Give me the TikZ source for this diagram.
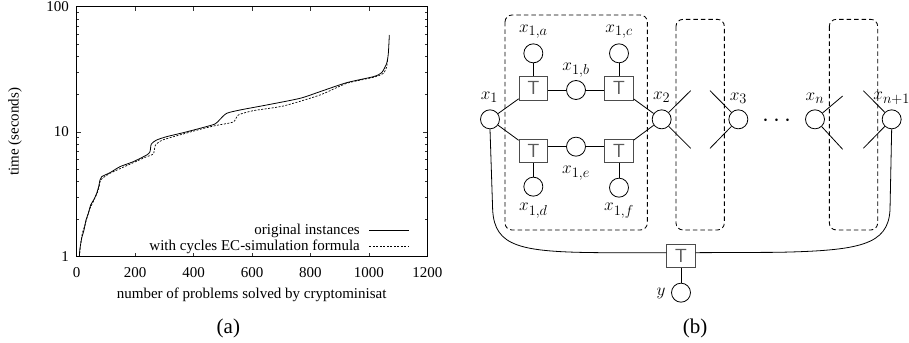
\documentclass[tikz,border=0pt]{standalone}
\usepackage{fontspec}
\setmainfont{Liberation Serif}
\usetikzlibrary{calc}
\begin{document}
\begin{tikzpicture}[x=0.33333pt,y=-0.33333pt,
  plotlbl/.style={font=\fontsize{15}{18}\selectfont, inner sep=0pt},
  tickline/.style={line width=0.5pt, black!80},
  var/.style={circle, draw, line width=0.8pt, minimum size=19pt, inner sep=0pt},
  fac/.style={rectangle, draw=black!70, line width=0.8pt, minimum width=28.5pt, minimum height=23.3pt, inner sep=0pt, font=\sffamily\fontsize{19}{19}\selectfont, text=black!65},
  mlbl/.style={font=\fontsize{19}{22}\selectfont, inner sep=0pt},
  grp/.style={draw=black, dash pattern=on 4.5pt off 3pt, line width=0.85pt, rounded corners=7pt},
  conn/.style={line width=0.8pt},
  subcap/.style={font=\fontsize{21}{24}\selectfont, inner sep=0pt}
]
\useasboundingbox (0,0) rectangle (2727,1029);
% ---------------- plot (a) ----------------
\foreach \k in {1,...,5} {
  \draw[tickline] ({230+\k*175.3333},770) -- ++(0,-12);
  \draw[tickline] ({230+\k*175.3333},20) -- ++(0,12);
}
\draw[tickline] (230,396) -- ++(12,0);
\draw[tickline] (1282,396) -- ++(-12,0);
\foreach \d in {0,1} {
  \foreach \m in {2,...,9} {
    \draw[tickline] (230,{770-375*\d-375*log10(\m)}) -- ++(7,0);
    \draw[tickline] (1282,{770-375*\d-375*log10(\m)}) -- ++(-7,0);
  }
}
\draw[line width=0.9pt] (230,20) rectangle (1282,770);
\node[plotlbl, anchor=east] (y1) at (207,770) {1};
\node[plotlbl, anchor=east] (y10) at (207,396) {10};
\node[plotlbl, anchor=east] (y100) at (207,20) {100};
\foreach \v [count=\i from 0] in {0,200,400,600,800,1000,1200}
  \node[plotlbl] (xt\i) at ({230+\i*175.3333},818) {\v};
\node[plotlbl] (xlab) at (755,885) {number of problems solved by cryptominisat};
\node[plotlbl, rotate=90] (ylab) at (45,395) {time (seconds)};
\node[plotlbl, anchor=east] (leg1) at (1080,693) {original instances};
\node[plotlbl, anchor=east] (leg2) at (1080,740) {with cycles EC-simulation formula};
\draw[line width=0.8pt] (1108,690) -- (1228,690);
\draw[line width=0.7pt, dash pattern=on 2pt off 1.5pt] (1108,738) -- (1228,738);
% solid curve
\draw[line width=0.8pt, line join=round] plot[smooth, tension=0.4] coordinates {
 (238,770) (240,745) (245,715) (252,690) (258,660) (265,640) (272,615) (282,598)
 (290,580) (296,560) (300,540) (305,530) (330,518) (360,500) (400,485) (440,465)
 (450,455) (454,432) (470,420) (500,410) (550,398) (600,385) (645,372) (660,358)
 (680,340) (720,330) (800,315) (900,295) (960,275) (1040,248) (1120,230) (1145,218)
 (1160,190) (1165,160) (1168,105)};
% dashed curve
\draw[line width=0.7pt, dash pattern=on 2pt off 1.5pt] plot[smooth, tension=0.4] coordinates {
 (238,770) (241,740) (247,700) (255,675) (262,650) (270,625) (282,600)
 (292,578) (298,558) (302,540) (330,520) (400,488) (440,470) (460,462)
 (466,436) (480,424) (500,416) (600,388) (650,376) (700,366) (715,345)
 (760,332) (850,318) (960,285) (1040,250) (1120,232) (1150,220) (1160,200) (1163,175)};
\node[subcap] (capa) at (685,985) {(a)};
% ---------------- diagram (b) ----------------
\begin{scope}[shift={(1380,0)}]
\draw[grp] (135,45) rectangle (562,690);
\draw[grp] (648,58) rectangle (793,690);
\draw[grp] (1108,58) rectangle (1253,690);
\node[var] (x1) at (90,358) {};
\node[var] (x2) at (605,358) {};
\node[var] (x3) at (835,358) {};
\node[var] (xn) at (1065,358) {};
\node[var] (xnp) at (1295,358) {};
\node[fac] (TL) at (220,265) {T};
\node[fac] (TR) at (477,265) {T};
\node[fac] (BL) at (220,453) {T};
\node[fac] (BR) at (477,453) {T};
\node[var] (x1b) at (348,270) {};
\node[var] (x1e) at (348,440) {};
\node[var] (x1a) at (220,160) {};
\node[var] (x1c) at (477,160) {};
\node[var] (x1d) at (220,560) {};
\node[var] (x1f) at (477,563) {};
\node[fac] (bot) at (663,768) {T};
\node[var] (yv) at (663,878) {};
% labels
\node[mlbl] (lx1) at (88,292) {$x_1$};
\node[mlbl] (lx2) at (605,292) {$x_2$};
\node[mlbl] (lx3) at (835,295) {$x_3$};
\node[mlbl] (lxn) at (1065,295) {$x_n$};
\node[mlbl] (lxnp) at (1295,295) {$x_{n+1}$};
\node[mlbl] (lx1a) at (220,95) {$x_{1,a}$};
\node[mlbl] (lx1c) at (477,95) {$x_{1,c}$};
\node[mlbl] (lx1b) at (348,210) {$x_{1,b}$};
\node[mlbl] (lx1e) at (348,520) {$x_{1,e}$};
\node[mlbl] (lx1d) at (220,632) {$x_{1,d}$};
\node[mlbl] (lx1f) at (477,632) {$x_{1,f}$};
\node[mlbl] (ly) at (603,880) {$y$};
\node[font=\fontsize{24}{24}\selectfont, inner sep=0pt] (dots) at (950,362) {$\cdots$};
% connectors
\draw[conn] (x1a) -- (TL);
\draw[conn] (x1c) -- (TR);
\draw[conn] (BL) -- (x1d);
\draw[conn] (BR) -- (x1f);
\draw[conn] (TL.east |- x1b) -- (x1b) -- (TR.west |- x1b);
\draw[conn] (BL.east |- x1e) -- (x1e) -- (BR.west |- x1e);
\draw[conn] (x1) -- (TL);
\draw[conn] (x1) -- (BL);
\draw[conn] (TR) -- (x2);
\draw[conn] (BR) -- (x2);
\coordinate (c2a) at (692,272); \coordinate (c2b) at (692,445);
\coordinate (c3a) at (750,272); \coordinate (c3b) at (750,445);
\coordinate (cna) at (1148,288); \coordinate (cnb) at (1148,448);
\coordinate (cpa) at (1210,272); \coordinate (cpb) at (1210,445);
\draw[conn] (x2) -- (c2a); \draw[conn] (x2) -- (c2b);
\draw[conn] (x3) -- (c3a); \draw[conn] (x3) -- (c3b);
\draw[conn] (xn) -- (cna); \draw[conn] (xn) -- (cnb);
\draw[conn] (xnp) -- (cpa); \draw[conn] (xnp) -- (cpb);
\draw[conn] (x1.south) -- (98,630) .. controls (104,740) and (180,756) .. (420,758) -- (bot.west |- 0,758);
\draw[conn] (xnp.south) -- (1290,630) .. controls (1284,735) and (1200,752) .. (950,757) -- (bot.east |- 0,758);
\draw[conn] (bot) -- (yv);
\node[subcap] (capb) at (705,985) {(b)};
\end{scope}
\end{tikzpicture}
\end{document}
